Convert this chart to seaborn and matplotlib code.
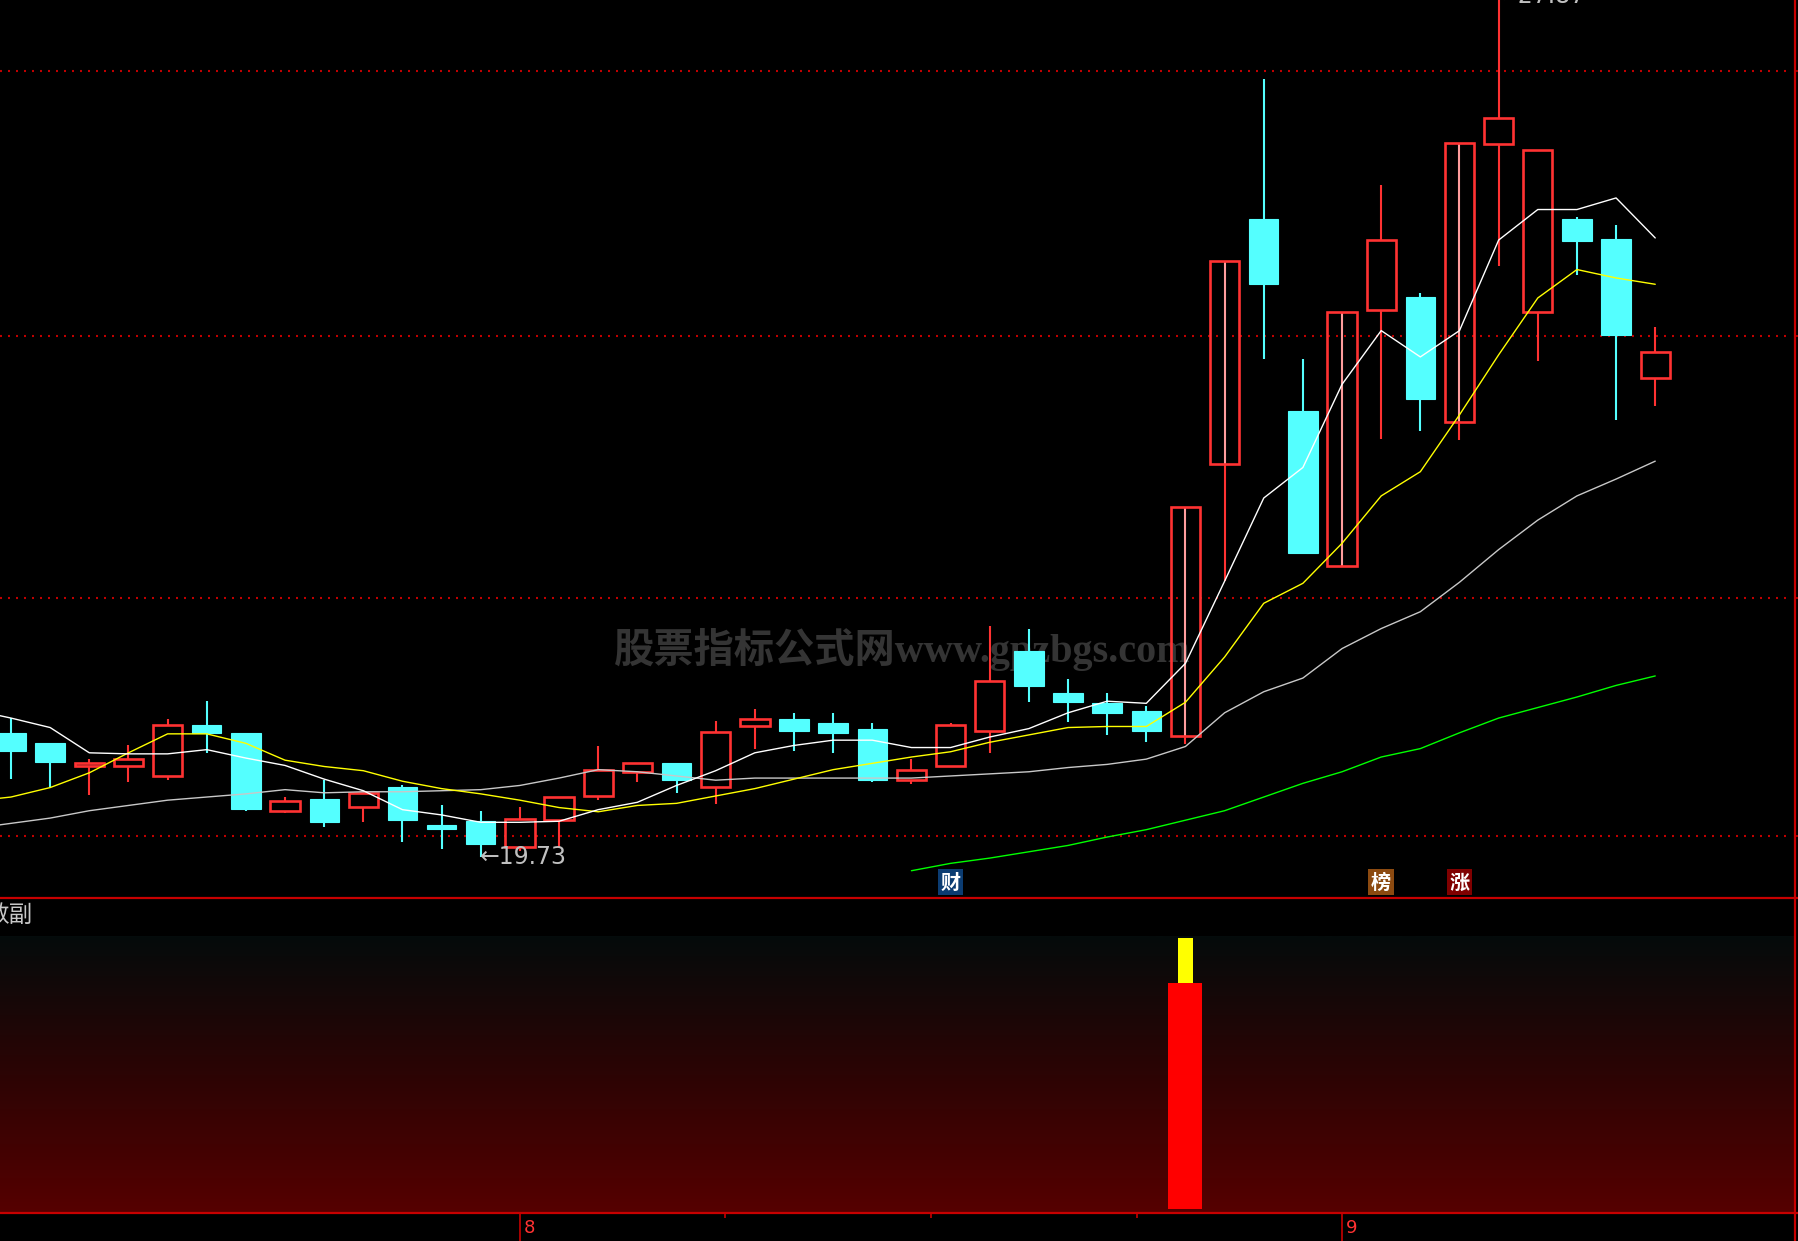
import numpy as np
import pandas as pd
import matplotlib
matplotlib.use('Agg')
import matplotlib.pyplot as plt
import matplotlib.transforms as mtransforms
from matplotlib.colors import LinearSegmentedColormap
from matplotlib.lines import Line2D
import seaborn as sns

# ---- daily candles ----
opens  = [20.91, 20.81, 20.59, 20.59, 20.50, 20.98, 20.91, 20.17, 20.28, 20.21, 20.40, 20.03, 20.07, 19.83, 20.08,
          20.31, 20.54, 20.62, 20.40, 20.97, 21.04, 21.00, 20.95, 20.46, 20.59, 20.93, 21.69, 21.29, 21.19, 21.12,
          20.88, 23.46, 25.79, 23.97, 22.49, 24.93, 25.05, 23.86, 26.50, 24.91, 25.79, 25.60, 24.28]
highs  = [21.05, 20.81, 20.66, 20.79, 21.04, 21.21, 20.91, 20.30, 20.46, 20.34, 20.41, 20.22, 20.17, 20.21, 20.30,
          20.78, 20.62, 20.62, 21.02, 21.14, 21.10, 21.10, 21.00, 20.66, 21.00, 21.92, 21.90, 21.42, 21.29, 21.16,
          23.05, 25.39, 27.12, 24.46, 24.91, 26.11, 25.09, 26.51, 27.87, 26.45, 25.81, 25.73, 24.76]
lows   = [20.47, 20.40, 20.32, 20.44, 20.46, 20.72, 20.17, 20.15, 20.02, 20.06, 19.87, 19.81, 19.73, 19.79, 19.83,
          20.27, 20.44, 20.34, 20.23, 20.76, 20.74, 20.72, 20.44, 20.42, 20.59, 20.72, 21.20, 21.01, 20.89, 20.82,
          20.80, 22.35, 24.46, 22.62, 22.49, 23.70, 23.78, 23.69, 25.34, 24.44, 25.26, 23.88, 24.01]
closes = [20.74, 20.63, 20.62, 20.66, 20.98, 20.91, 20.19, 20.26, 20.06, 20.34, 20.08, 20.00, 19.85, 20.09, 20.30,
          20.56, 20.62, 20.46, 20.92, 21.04, 20.93, 20.91, 20.46, 20.56, 20.98, 21.40, 21.35, 21.20, 21.10, 20.93,
          23.05, 25.39, 25.17, 22.62, 24.91, 25.59, 24.08, 26.51, 26.75, 26.45, 25.58, 24.69, 24.53]
limit_up_days = [30, 31, 34, 37]

# moving averages, first value is the day before the first visible candle
ma5  = [21.13, 21.05, 20.96, 20.72, 20.71, 20.71, 20.75, 20.67, 20.60, 20.47, 20.36, 20.18, 20.13, 20.06, 20.06,
        20.07, 20.18, 20.25, 20.41, 20.55, 20.72, 20.79, 20.84, 20.84, 20.77, 20.77, 20.87, 20.95, 21.10, 21.21,
        21.19, 21.57, 22.35, 23.14, 23.43, 24.22, 24.73, 24.48, 24.73, 25.59, 25.88, 25.88, 25.99, 25.61]
ma10 = [20.26, 20.30, 20.39, 20.53, 20.72, 20.90, 20.90, 20.81, 20.65, 20.59, 20.55, 20.45, 20.38, 20.33, 20.27,
        20.20, 20.16, 20.22, 20.24, 20.31, 20.38, 20.47, 20.56, 20.62, 20.68, 20.73, 20.82, 20.89, 20.96, 20.97,
        20.97, 21.20, 21.63, 22.14, 22.33, 22.71, 23.16, 23.39, 23.93, 24.50, 25.04, 25.31, 25.23, 25.17]
ma20 = [20.00, 20.05, 20.10, 20.17, 20.22, 20.27, 20.30, 20.33, 20.37, 20.34, 20.35, 20.35, 20.36, 20.37, 20.41,
        20.48, 20.56, 20.54, 20.50, 20.46, 20.48, 20.48, 20.48, 20.48, 20.48, 20.50, 20.52, 20.54, 20.58, 20.61,
        20.66, 20.78, 21.10, 21.30, 21.43, 21.71, 21.90, 22.06, 22.34, 22.65, 22.93, 23.16, 23.32, 23.49]
ma60_start = 23
ma60 = [19.60, 19.67, 19.72, 19.78, 19.84, 19.92, 19.99, 20.08, 20.17, 20.30, 20.43, 20.54, 20.68, 20.76, 20.91,
        21.05, 21.15, 21.25, 21.36, 21.45]

# lower indicator: one signal bar
signal_day = 30
signal_red = 100
signal_yellow = 20

badges = [(24, '财', '#0b3c72'), (35, '榜', '#8c4a10'), (37, '涨', '#800000')]
month_ticks = [13, 34]
month_labels = ['8', '9']
grid_prices = [27.196, 24.679, 22.190, 19.933]

sns.set_theme(style='dark')
plt.rcParams['lines.scale_dashes'] = False
CJK = ['Noto Sans CJK SC', 'DejaVu Sans']
NUM = ['Liberation Sans Narrow', 'DejaVu Sans']

RED = '#ff3232'
CYAN = '#54ffff'
BORDER = '#c80000'

n = len(opens)
days = np.arange(n)
o, h, l, c = map(np.array, (opens, highs, lows, closes))
up = c >= o
xlim = (-0.281, 45.57)

fig = plt.figure(figsize=(17.99, 12.41), dpi=100, facecolor='black')
ax = fig.add_axes([0, 1 - 898 / 1241, 1795 / 1799, 898 / 1241])
ax.set_facecolor('black')
ax.set_xlim(*xlim)
ax.set_ylim(19.341, 27.87)
for s in ax.spines.values():
    s.set_visible(False)
ax.set_xticks([])
ax.yaxis.tick_right()
ax.set_yticks(grid_prices)
ax.tick_params(axis='y', colors=BORDER, length=3, width=1.2, labelright=False, labelleft=False)
ax.grid(False)

for gp in grid_prices:
    ax.axhline(gp, xmax=1786 / 1795, color='#c00000', lw=1.5, dashes=(1.44, 4.32), zorder=1)

ax.text(0.5025, 0.2762, '股票指标公式网www.gpzbgs.com', transform=ax.transAxes, ha='center', va='center',
        color='#343434', fontsize=29, fontweight='bold', family=['Liberation Serif', 'Noto Sans CJK SC'],
        zorder=0.5)

# candles
w = 0.75
ax.vlines(days[~up], l[~up], h[~up], color=CYAN, lw=1.5, zorder=2)
ax.bar(days[~up], o[~up] - c[~up], bottom=c[~up], width=w, color=CYAN, edgecolor=CYAN, lw=0.8, zorder=3)
ax.vlines(days[up], c[up], h[up], color=RED, lw=1.5, zorder=2)
ax.vlines(days[up], l[up], o[up], color=RED, lw=1.5, zorder=2)
ax.vlines(limit_up_days, o[limit_up_days], c[limit_up_days], color='#ff9c9c', lw=1.5, zorder=2)
ax.bar(days[up], c[up] - o[up], bottom=o[up], width=w, facecolor='none', edgecolor=RED, lw=1.9, zorder=3)

# moving averages
ma_days = np.arange(-1, n)
ma = pd.DataFrame({'day': ma_days, 'ma5': ma5, 'ma10': ma10, 'ma20': ma20})
sns.lineplot(data=ma, x='day', y='ma20', ax=ax, color='#c8c8c8', lw=1.0, zorder=5)
sns.lineplot(data=ma, x='day', y='ma10', ax=ax, color='#ffff00', lw=1.0, zorder=5)
sns.lineplot(data=ma, x='day', y='ma5', ax=ax, color='#ffffff', lw=1.0, zorder=6)
sns.lineplot(x=np.arange(ma60_start, ma60_start + len(ma60)), y=ma60, ax=ax, color='#00ff00', lw=1.0, zorder=5)
ax.set_xlabel('')
ax.set_ylabel('')
ax.set_xlim(*xlim)
ax.set_ylim(19.341, 27.87)

# high / low marks
lo_i = int(np.argmin(l))
hi_i = int(np.argmax(h))
ax.annotate(f'←{l[lo_i]:.2f}', xy=(lo_i, l[lo_i]), xytext=(-1, 0), textcoords='offset points',
            ha='left', va='center', color='#c0c0c0', fontsize=17, family=NUM, zorder=7)
ax.annotate(f'←{h[hi_i]:.2f}', xy=(hi_i, h[hi_i]), xytext=(0, 3), textcoords='offset points',
            ha='left', va='center', color='#c0c0c0', fontsize=17, family=NUM, zorder=7, clip_on=True)

trans = mtransforms.blended_transform_factory(ax.transData, ax.transAxes)
for d, ch, col in badges:
    ax.text(d, 0.0178, ch, transform=trans, ha='center', va='center', color='white', fontsize=14.5,
            family=CJK, fontweight='bold', zorder=8,
            bbox=dict(boxstyle='square,pad=0.14', fc=col, ec='none'))

# lower panel
ax2 = fig.add_axes([0, 1 - 1213 / 1241, 1795 / 1799, 277 / 1241])
ax2.set_xlim(*xlim)
ax2.set_ylim(-1.8, 120.8)
cmap = LinearSegmentedColormap.from_list('bg', ['#040b0b', '#2c0404', '#560000'])
grad = np.linspace(0, 1, 256).reshape(-1, 1)
ax2.imshow(grad, aspect='auto', cmap=cmap, extent=[xlim[0], xlim[1], -1.8, 120.8], origin='upper', zorder=0)
ax2.bar([signal_day], [signal_red], width=0.87, color='#ff0000', edgecolor='none', lw=0, zorder=2)
ax2.bar([signal_day], [signal_yellow], bottom=[signal_red], width=0.36, color='#ffff00', edgecolor='none',
        lw=0, zorder=2)
ax2.set_xlim(*xlim)
ax2.set_ylim(-1.8, 120.8)
for s in ax2.spines.values():
    s.set_visible(False)
ax2.set_yticks([])
minor = [month_ticks[0] + (month_ticks[1] - month_ticks[0]) * k / 4 for k in (1, 2, 3)]
ax2.set_xticks(month_ticks)
ax2.set_xticks(minor, minor=True)
ax2.set_xticklabels([])
ax2.tick_params(axis='x', which='major', direction='out', length=20, width=1.2, colors=BORDER, bottom=True)
ax2.tick_params(axis='x', which='minor', direction='out', length=3.6, width=1.2, colors=BORDER, bottom=True)
ax2.grid(False)
for d, lab in zip(month_ticks, month_labels):
    ax2.annotate(lab, xy=(d, 0), xycoords=('data', 'axes fraction'), xytext=(3, -4), textcoords='offset points',
                 ha='left', va='top', color=RED, fontsize=13, family=NUM, annotation_clip=False)

fig.text(32 / 1799, 1 - 915 / 1241, '数副', ha='right', va='center', color='#c8c8c8', fontsize=17, family=CJK)

# panel borders
for yy in (1 - 898 / 1241, 1 - 1213 / 1241):
    fig.add_artist(Line2D([0, 1], [yy, yy], transform=fig.transFigure, color=BORDER, lw=1.6))
fig.add_artist(Line2D([1795 / 1799] * 2, [0, 1], transform=fig.transFigure, color=BORDER, lw=1.6))

fig.savefig('out.png', dpi=100, facecolor='black')
